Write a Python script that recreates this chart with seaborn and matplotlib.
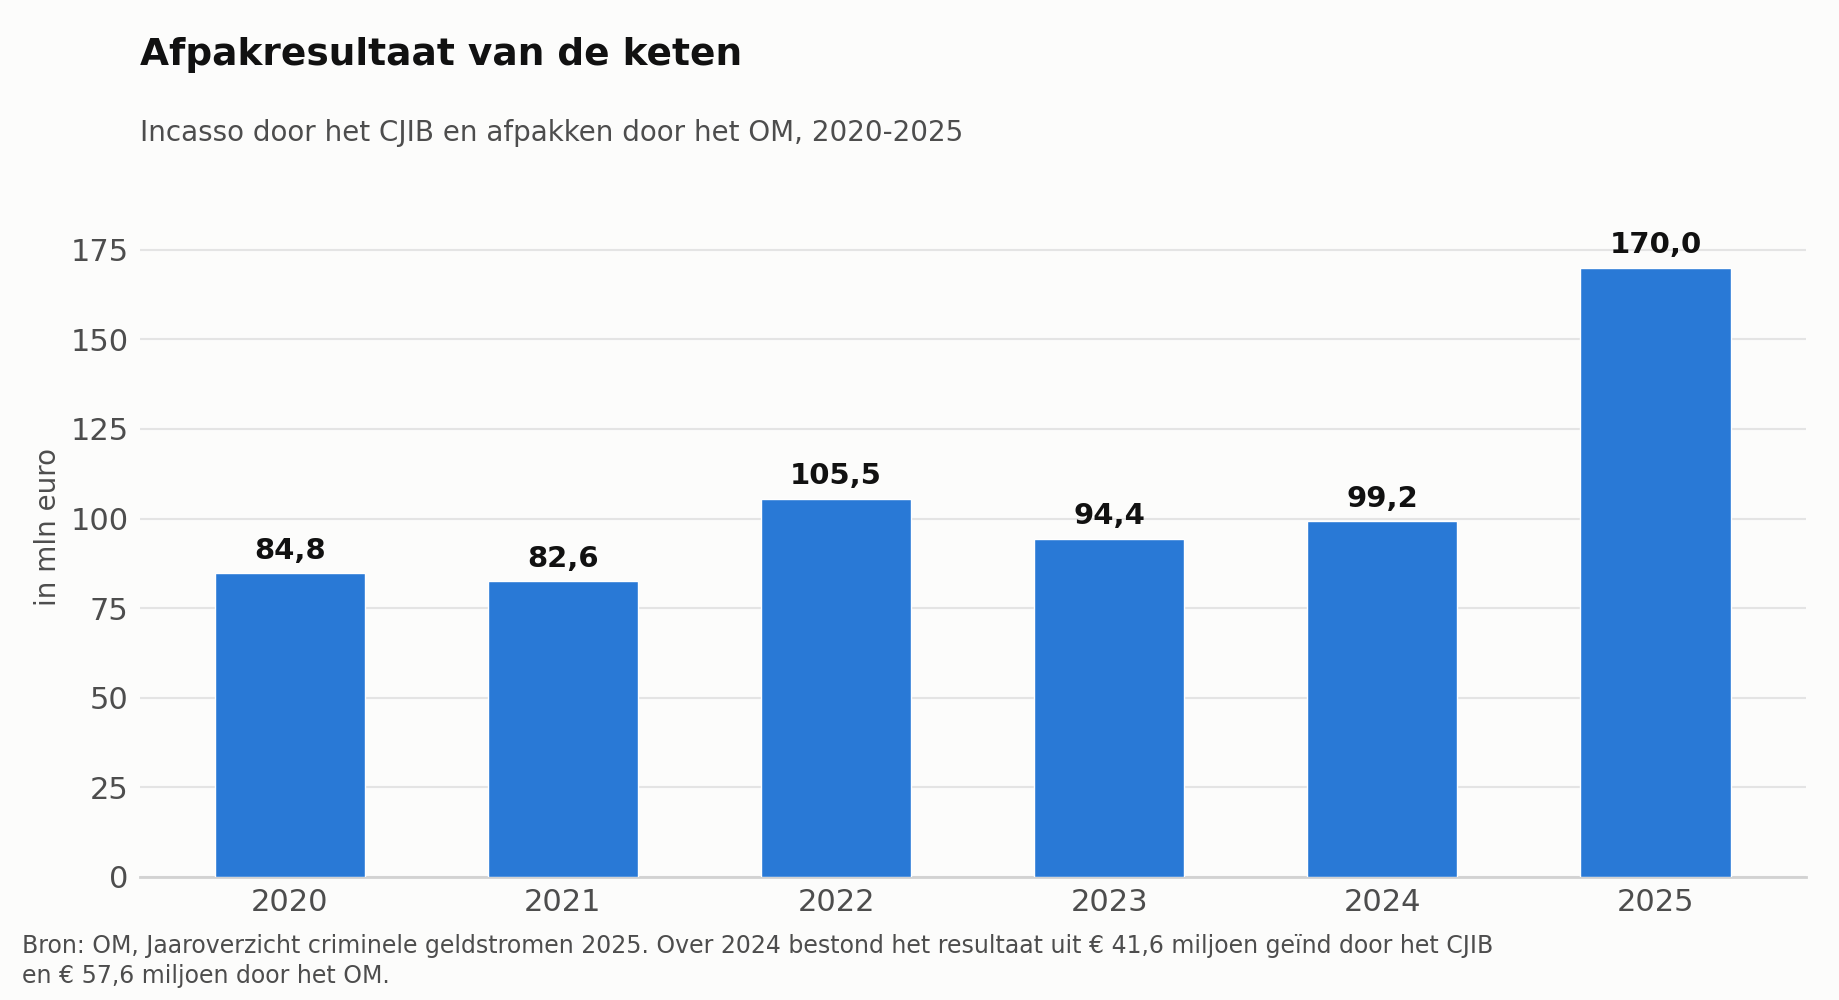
import matplotlib
matplotlib.use("Agg")
import matplotlib.pyplot as plt
import seaborn as sns
import pandas as pd

years = ["2020", "2021", "2022", "2023", "2024", "2025"]
values = [84.8, 82.6, 105.5, 94.4, 99.2, 170.0]
labels = ["84,8", "82,6", "105,5", "94,4", "99,2", "170,0"]

bg = "#fcfcfb"
bar_color = "#2979d6"
grey = "#4d4d4d"

sns.set_theme(style="white")
plt.rcParams["font.family"] = ["DejaVu Sans"]

df = pd.DataFrame({"year": years, "value": values})

fig = plt.figure(figsize=(18.39, 10), dpi=100, facecolor=bg)
ax = fig.add_axes([0.0759, 0.123, 0.906, 0.699])
ax.set_facecolor(bg)

sns.barplot(data=df, x="year", y="value", color=bar_color, width=0.55,
            saturation=1, ax=ax, zorder=3)

# value labels above bars
for i, (v, lab) in enumerate(zip(values, labels)):
    ax.annotate(lab, (i, v), xytext=(0, 6), textcoords="offset points",
                ha="center", va="bottom", fontsize=21, fontweight="bold",
                color="#111111")

ax.set_xlim(-0.55, 5.55)
ax.set_ylim(0, 195)
ax.set_yticks([0, 25, 50, 75, 100, 125, 150, 175])
ax.yaxis.grid(True, color="#e4e4e4", linewidth=1.5, zorder=0)
ax.set_axisbelow(True)
for s in ["top", "right", "left"]:
    ax.spines[s].set_visible(False)
ax.spines["bottom"].set_color("#d2d2d2")
ax.spines["bottom"].set_linewidth(2)
ax.tick_params(axis="both", length=0, labelsize=22, colors=grey, pad=8)
ax.set_xlabel("")
ax.set_ylabel("in mln euro", fontsize=20, color=grey, labelpad=6)

fig.text(0.0759, 0.945, "Afpakresultaat van de keten", fontsize=27,
         fontweight="bold", color="#111111", va="center")
fig.text(0.0759, 0.867, "Incasso door het CJIB en afpakken door het OM, 2020-2025",
         fontsize=20, color=grey, va="center")
fig.text(0.012, 0.039,
         "Bron: OM, Jaaroverzicht criminele geldstromen 2025. Over 2024 bestond het resultaat uit € 41,6 miljoen geïnd door het CJIB\n"
         "en € 57,6 miljoen door het OM.",
         fontsize=17, color=grey, va="center", linespacing=1.35)

fig.savefig("out.png", dpi=100, facecolor=bg)
